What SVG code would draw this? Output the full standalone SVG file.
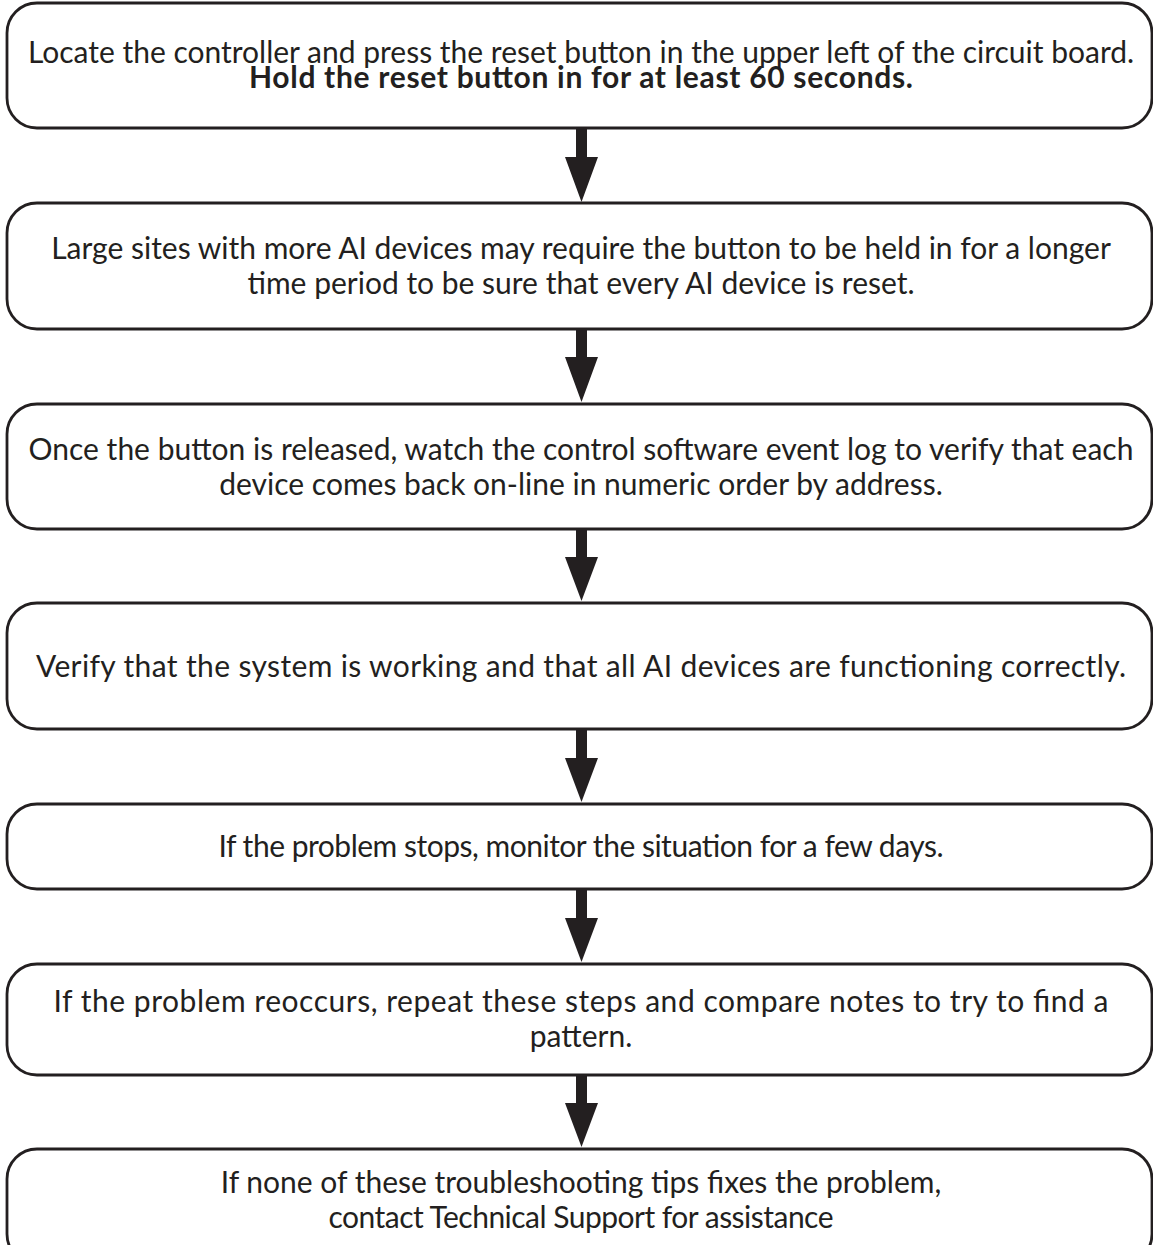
<svg xmlns="http://www.w3.org/2000/svg" width="1153" height="1245" viewBox="0 0 1153 1245">
<style>
.box{fill:#fff;stroke:#231f20;stroke-width:2.8}
.t{font-family:Lato,"Open Sans","Liberation Sans",sans-serif;font-size:30px;fill:#231f20;text-anchor:middle}
.b{font-weight:bold}
.arr{fill:#231f20}
</style>
<rect width="1153" height="1245" fill="#fff"/>
<g id="connectors">
<polygon class="arr" points="576,128 587,128 587,157 598,157 581.5,202 565,157 576,157"/>
<polygon class="arr" points="576,329 587,329 587,357 598,357 581.5,402 565,357 576,357"/>
<polygon class="arr" points="576,529 587,529 587,557 598,557 581.5,601 565,557 576,557"/>
<polygon class="arr" points="576,729 587,729 587,758 598,758 581.5,802 565,758 576,758"/>
<polygon class="arr" points="576,889 587,889 587,918 598,918 581.5,962 565,918 576,918"/>
<polygon class="arr" points="576,1075 587,1075 587,1103 598,1103 581.5,1147 565,1103 576,1103"/>
</g>
<g id="n1"><rect class="box" x="7" y="3" width="1145" height="125" rx="30"/>
<text class="t" x="581" y="63">Locate the controller and press the reset button in the upper left of the circuit board.</text>
<text class="t b" x="581" y="88" textLength="664">Hold the reset button in for at least 60 seconds.</text></g>
<g id="n2"><rect class="box" x="7" y="203" width="1145" height="126" rx="30"/>
<text class="t" x="581" y="259">Large sites with more AI devices may require the button to be held in for a longer</text>
<text class="t" x="581" y="294">time period to be sure that every AI device is reset.</text></g>
<g id="n3"><rect class="box" x="7" y="404" width="1145" height="125" rx="30"/>
<text class="t" x="581" y="460">Once the button is released, watch the control software event log to verify that each</text>
<text class="t" x="581" y="495">device comes back on-line in numeric order by address.</text></g>
<g id="n4"><rect class="box" x="7" y="603" width="1145" height="126" rx="30"/>
<text class="t" x="581" y="677" textLength="1090">Verify that the system is working and that all AI devices are functioning correctly.</text></g>
<g id="n5"><rect class="box" x="7" y="804" width="1145" height="85" rx="30"/>
<text class="t" x="581" y="857" textLength="725">If the problem stops, monitor the situation for a few days.</text></g>
<g id="n6"><rect class="box" x="7" y="964" width="1145" height="111" rx="30"/>
<text class="t" x="581" y="1012" textLength="1055">If the problem reoccurs, repeat these steps and compare notes to try to find a</text>
<text class="t" x="581" y="1047">pattern.</text></g>
<g id="n7"><rect class="box" x="7" y="1149" width="1145" height="115" rx="30"/>
<text class="t" x="581" y="1193">If none of these troubleshooting tips fixes the problem,</text>
<text class="t" x="581" y="1228" textLength="505">contact Technical Support for assistance</text></g>
</svg>
